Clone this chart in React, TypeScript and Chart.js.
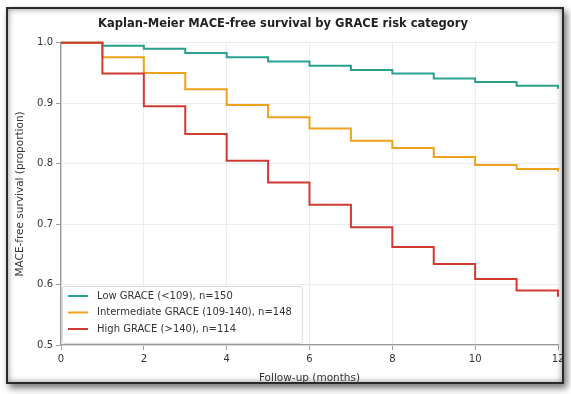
import React, { useEffect, useRef } from "react";
import { Chart, registerables } from "chart.js";

Chart.register(...registerables);

const months = [0, 1, 2, 3, 4, 5, 6, 7, 8, 9, 10, 11, 12];
const lowSurv = [1.0, 0.995, 0.99, 0.983, 0.976, 0.969, 0.962, 0.955, 0.949, 0.941, 0.935, 0.929, 0.924];
const interSurv = [1.0, 0.976, 0.95, 0.923, 0.897, 0.877, 0.858, 0.838, 0.826, 0.811, 0.798, 0.791, 0.787];
const highSurv = [1.0, 0.949, 0.895, 0.849, 0.805, 0.769, 0.732, 0.695, 0.662, 0.634, 0.609, 0.59, 0.58];
const seriesLabels = [
  "Low GRACE (<109), n=150",
  "Intermediate GRACE (109-140), n=148",
  "High GRACE (>140), n=114",
];
const seriesColors = ["#27a08e", "#eea21c", "#d13a32"];
const xTicks = [0, 2, 4, 6, 8, 10, 12];
const yTicks = [0.5, 0.6, 0.7, 0.8, 0.9, 1.0];

const FONT = "'DejaVu Sans', sans-serif";

const legendPlugin = {
  id: "insideLegend",
  afterDraw(chart: any) {
    const { ctx, chartArea } = chart;
    const x0 = chartArea.left + 1;
    const bottom = chartArea.bottom - 2;
    const rowH = 16.5;
    const h = 57;
    const y0 = bottom - h;
    ctx.save();
    ctx.font = `10px ${FONT}`;
    let maxW = 0;
    seriesLabels.forEach((l) => (maxW = Math.max(maxW, ctx.measureText(l).width)));
    const w = 36 + maxW + 9;
    ctx.fillStyle = "rgba(255,255,255,0.85)";
    ctx.strokeStyle = "#d8d8d8";
    ctx.lineWidth = 1;
    ctx.beginPath();
    ctx.roundRect(x0 + 0.5, y0 + 0.5, w, h, 3);
    ctx.fill();
    ctx.stroke();
    seriesLabels.forEach((l, i) => {
      const cy = y0 + 10 + i * rowH;
      ctx.strokeStyle = seriesColors[i];
      ctx.lineWidth = 2;
      ctx.beginPath();
      ctx.moveTo(x0 + 6, cy);
      ctx.lineTo(x0 + 26, cy);
      ctx.stroke();
      ctx.fillStyle = "#333";
      ctx.textBaseline = "middle";
      ctx.textAlign = "left";
      ctx.fillText(l, x0 + 35, cy);
    });
    ctx.restore();
  },
};

export default function App() {
  const ref = useRef<HTMLCanvasElement>(null);
  useEffect(() => {
    document.body.style.margin = "0";
    const toPts = (arr: number[]) => months.map((m, i) => ({ x: m, y: arr[i] }));
    const chart = new Chart(ref.current!, {
      type: "line",
      data: {
        datasets: [lowSurv, interSurv, highSurv].map((arr, i) => ({
          label: seriesLabels[i],
          data: toPts(arr),
          borderColor: seriesColors[i],
          backgroundColor: seriesColors[i],
          borderWidth: 2,
          pointRadius: 0,
          stepped: "before" as const,
          fill: false,
          clip: false as any,
          order: 2 - i,
        })),
      },
      options: {
        animation: false,
        responsive: false,
        maintainAspectRatio: false,
        layout: { padding: { left: 8, right: 13, top: 11, bottom: 9 } },
        plugins: {
          legend: { display: false },
          tooltip: { enabled: false },
          title: {
            display: true,
            text: "Kaplan-Meier MACE-free survival by GRACE risk category",
            color: "#222",
            font: { family: FONT, size: 11.5, weight: "bold" },
            padding: { top: 6, bottom: 12 },
          },
        },
        scales: {
          x: {
            type: "linear",
            min: 0,
            max: 12,
            afterBuildTicks: (s: any) => {
              s.ticks = xTicks.map((v) => ({ value: v }));
            },
            ticks: {
              color: "#333",
              font: { family: FONT, size: 10 },
              padding: 3,
              maxRotation: 0,
            },
            grid: { color: "#ececec", tickColor: "#999", tickLength: 5, lineWidth: 1 },
            border: { color: "#999", width: 1.3 },
            title: {
              display: true,
              text: "Follow-up (months)",
              color: "#333",
              font: { family: FONT, size: 10.5 },
              padding: { top: 0, bottom: 0 },
            },
            afterFit: (s: any) => {
              s.height = 40;
            },
          },
          y: {
            type: "linear",
            min: 0.5,
            max: 1.0,
            afterBuildTicks: (s: any) => {
              s.ticks = yTicks.map((v) => ({ value: v }));
            },
            ticks: {
              color: "#333",
              font: { family: FONT, size: 10 },
              padding: 3,
              callback: (v: any) => Number(v).toFixed(1),
            },
            grid: { color: "#ececec", tickColor: "#999", tickLength: 5, lineWidth: 1 },
            border: { color: "#999", width: 1.3 },
            title: {
              display: true,
              text: "MACE-free survival (proportion)",
              color: "#333",
              font: { family: FONT, size: 10.5 },
              padding: { top: 6, bottom: 0 },
            },
            afterFit: (s: any) => {
              s.width = 53;
            },
          },
        },
      },
      plugins: [legendPlugin],
    });
    return () => chart.destroy();
  }, []);
  return (
    <div style={{ position: "fixed", left: 0, top: 0, width: 571, height: 394, background: "#fff", overflow: "hidden" }}>
      <div
        style={{
          position: "absolute",
          left: 6,
          top: 7,
          width: 558,
          height: 377,
          boxSizing: "border-box",
          border: "2px solid #2a2a2a",
          background: "#fff",
          boxShadow: "inset 0 0 6px rgba(0,0,0,0.45), 3px 4px 7px rgba(0,0,0,0.55)",
        }}
      />
      <canvas ref={ref} width={571} height={394} style={{ position: "absolute", left: 0, top: 0 }} />
    </div>
  );
}
